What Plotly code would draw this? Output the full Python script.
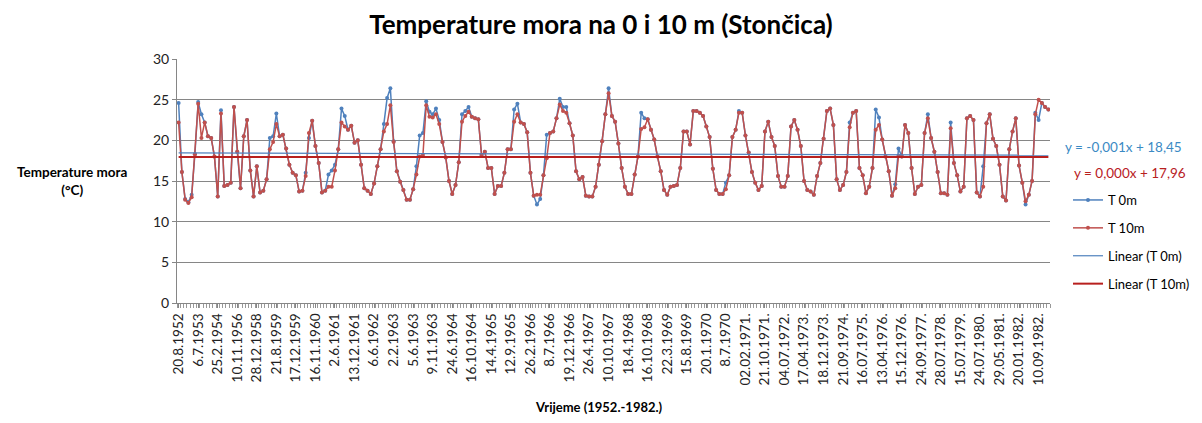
import plotly.graph_objects as go

# Mjerenja temperature mora, Stončica (1952.-1982.)
T_0M = [
    24.6, 16.1, 12.8, 12.4, 13.3, 18.3, 24.7, 23.2, 22.2, 20.5,
    20.3, 18.0, 13.1, 23.7, 14.4, 14.5, 14.8, 24.1, 18.6, 14.1,
    20.5, 22.5, 16.3, 13.1, 16.8, 13.6, 13.8, 15.2, 20.3, 20.5,
    23.3, 20.5, 20.7, 19.0, 17.0, 16.0, 15.7, 13.7, 13.8, 16.0,
    20.3, 22.4, 19.3, 17.2, 13.6, 13.8, 15.8, 16.3, 17.0, 18.9,
    23.9, 23.0, 21.3, 21.8, 19.7, 20.0, 17.0, 14.1, 13.8, 13.4,
    14.7, 16.8, 18.9, 22.0, 25.2, 26.4, 19.9, 16.2, 14.9, 13.9,
    12.7, 12.7, 14.0, 16.8, 20.6, 20.9, 24.8, 23.5, 23.2, 23.9,
    22.5, 19.8, 17.9, 15.0, 13.4, 14.5, 17.3, 23.2, 23.6, 24.1,
    22.9, 22.7, 22.6, 18.2, 18.6, 16.6, 16.6, 13.4, 14.4, 14.4,
    16.0, 18.9, 18.9, 23.8, 24.5, 22.2, 22.0, 21.0, 16.0,
    13.2, 12.1, 12.8, 15.7, 20.7, 20.9, 21.1, 22.7, 25.1, 24.1,
    24.1, 22.1, 20.6, 16.2, 15.2, 15.5, 13.2, 13.1, 13.1, 14.3,
    17.0, 19.9, 23.2, 26.4, 23.0, 22.3, 19.6, 16.6, 14.3, 13.4,
    13.4, 15.8, 18.0, 23.4, 22.7, 22.6, 21.3, 20.1, 18.0, 16.2,
    13.9, 13.3, 14.3, 14.4, 14.5, 16.6, 21.1, 21.1, 19.5, 23.6,
    23.6, 23.4, 23.0, 21.7, 20.4, 16.5, 13.9, 13.4, 13.4, 14.8,
    15.7, 20.4, 21.3, 23.6, 23.4, 20.6, 18.5, 16.1, 14.8, 13.9,
    14.4, 21.1, 22.3, 20.4, 19.3, 15.6, 14.3, 14.3, 15.6, 21.7,
    22.5, 21.3, 19.3, 15.0, 13.9, 13.7, 13.3, 15.6, 17.2, 20.2,
    23.6, 23.9, 21.9, 15.2, 13.9, 14.5, 16.1, 22.2, 23.4, 23.6,
    16.6, 15.7, 13.5, 14.3, 16.6, 23.8, 22.8, 20.1, 18.0, 16.2,
    13.2, 14.6, 19.0, 18.0, 21.9,
    20.9, 16.6, 13.4, 14.3,
    14.5, 20.9, 23.2, 20.3, 18.6, 16.1, 13.5, 13.5, 13.3, 22.2,
    17.2, 15.7, 13.7, 14.3, 22.7, 23.0, 22.5, 13.6, 13.1, 16.8,
    22.1, 23.2, 20.2, 19.3, 17.0, 13.1, 12.6, 18.9, 21.1, 22.7,
    16.9, 14.8, 12.1, 13.3, 15.0, 23.4, 22.5, 24.6, 24.1, 23.8,
]

T_10M = [
    22.2, 16.1, 12.7, 12.3, 13.0, 18.3, 24.5, 20.3, 22.2, 20.5,
    20.3, 18.0, 13.1, 23.3, 14.4, 14.5, 14.8, 24.1, 18.6, 14.1,
    20.5, 22.5, 16.3, 13.1, 16.8, 13.6, 13.8, 15.2, 18.9, 19.8,
    22.0, 20.5, 20.7, 19.0, 17.0, 16.0, 15.7, 13.7, 13.8, 15.6,
    20.9, 22.4, 19.3, 17.2, 13.6, 13.8, 14.3, 14.3, 16.3, 18.9,
    22.2, 21.7, 21.3, 21.8, 19.7, 20.0, 17.0, 14.1, 13.8, 13.4,
    14.7, 16.8, 18.9, 21.1, 22.0, 24.3, 19.8, 16.2, 14.9, 13.9,
    12.7, 12.7, 14.0, 15.8, 18.0, 18.2, 24.3, 22.9, 22.8, 23.2,
    22.0, 19.8, 17.9, 15.0, 13.4, 14.5, 17.3, 22.3, 23.0, 23.5,
    22.9, 22.7, 22.6, 18.2, 18.6, 16.6, 16.6, 13.4, 14.4, 14.4,
    16.0, 18.9, 18.9, 22.3, 23.2, 22.2, 22.0, 21.0, 16.0,
    13.2, 13.3, 13.3, 15.7, 17.8, 20.9, 21.1, 22.7, 24.4, 23.6,
    23.4, 22.1, 20.6, 16.2, 15.2, 15.5, 13.2, 13.1, 13.1, 14.3,
    17.0, 19.9, 23.2, 25.8, 23.0, 22.3, 19.6, 16.6, 14.3, 13.4,
    13.4, 15.8, 18.0, 21.4, 21.6, 22.6, 21.3, 20.1, 18.0, 16.2,
    13.9, 13.3, 14.3, 14.4, 14.5, 16.6, 21.1, 21.1, 19.5, 23.6,
    23.6, 23.4, 23.0, 21.7, 20.4, 16.5, 13.9, 13.4, 13.4, 14.0,
    15.7, 20.4, 21.3, 23.4, 23.4, 20.6, 18.5, 16.1, 14.8, 13.9,
    14.4, 21.1, 22.3, 20.4, 19.3, 15.6, 14.3, 14.3, 15.6, 21.7,
    22.5, 21.3, 19.3, 15.0, 13.9, 13.7, 13.3, 15.6, 17.2, 20.2,
    23.6, 23.9, 21.9, 15.2, 13.9, 14.5, 16.1, 21.6, 23.4, 23.6,
    16.6, 15.7, 13.5, 14.3, 16.6, 21.3, 21.9, 20.1, 18.0, 16.2,
    13.2, 14.1, 18.1, 18.0, 21.9,
    20.9, 16.6, 13.4, 14.3,
    14.5, 20.9, 22.7, 20.3, 18.6, 16.1, 13.5, 13.5, 13.3, 21.5,
    17.2, 15.7, 13.7, 14.3, 22.7, 23.0, 22.5, 13.6, 13.1, 14.3,
    22.1, 23.2, 20.2, 19.3, 17.0, 13.1, 12.6, 18.9, 21.1, 22.7,
    16.9, 14.8, 12.5, 13.3, 15.0, 23.2, 25.0, 24.6, 24.1, 23.8,
]

# oznake na x osi (svaka 6. kategorija)
DATE_LABELS = [
    "20.8.1952", "6.7.1953", "25.2.1954", "10.11.1956", "28.12.1958",
    "21.8.1959", "17.12.1959", "16.11.1960", "2.6.1961", "13.12.1961",
    "6.6.1962", "2.2.1963", "5.6.1963", "9.11.1963", "24.6.1964",
    "16.10.1964", "14.4.1965", "12.9.1965", "26.2.1966", "8.7.1966",
    "19.12.1966", "26.4.1967", "10.10.1967", "18.4.1968", "16.10.1968",
    "22.3.1969", "15.8.1969", "20.1.1970", "8.7.1970", "02.02.1971.",
    "21.10.1971.", "04.07.1972.", "17.04.1973.", "18.12.1973.", "21.09.1974.",
    "16.07.1975.", "13.04.1976.", "15.12.1976.", "24.09.1977.", "28.07.1978.",
    "15.07.1979.", "24.07.1980.", "29.05.1981.", "20.01.1982.", "10.09.1982.",
]
LABEL_STEP = 6

# linearni trendovi (nagib, odsječak)
TREND_T0 = (-0.001, 18.45)
TREND_T10 = (0.000, 17.96)
EQ_T0 = "y = -0,001x + 18,45"
EQ_T10 = "y = 0,000x + 17,96"

assert len(T_0M) == len(T_10M)

BLUE = "#4F81BD"
RED = "#C0504D"
FONT = "Lato"

n = len(T_0M)
x = list(range(n))
trend0 = [TREND_T0[0] * (i + 1) + TREND_T0[1] for i in x]
trend10 = [TREND_T10[0] * (i + 1) + TREND_T10[1] for i in x]

fig = go.Figure()
fig.add_trace(go.Scatter(
    x=x, y=T_0M, name="T 0m", mode="lines+markers", legendgroup="a",
    line=dict(color=BLUE, width=1.5), marker=dict(size=4, color=BLUE)
))
fig.add_trace(go.Scatter(
    x=x, y=T_10M, name="T 10m", mode="lines+markers", legendgroup="b",
    line=dict(color=RED, width=1.5), marker=dict(size=4, color=RED)
))
fig.add_trace(go.Scatter(
    x=x, y=trend0, name="Linear (T 0m)", mode="lines", legendgroup="c",
    line=dict(color=BLUE, width=1.2)
))
fig.add_trace(go.Scatter(
    x=x, y=trend10, name="Linear (T 10m)", mode="lines", legendgroup="d",
    line=dict(color="#B8201E", width=2)
))

# stranica ima 8px margine tijela, pa je figura manja
W, H = 1186, 407
fig.update_layout(
    width=W, height=H,
    paper_bgcolor="white", plot_bgcolor="white",
    margin=dict(l=169, r=144, t=51, b=112),
    font=dict(family=FONT, size=12, color="#000000"),
    title=dict(
        text="<b>Temperature mora na 0 i 10 m (Stončica)</b>",
        x=0.5, xanchor="center", y=1 - 17 / H, yanchor="middle",
        font=dict(size=26, family=FONT, color="#000000")
    ),
    showlegend=True,
    legend=dict(
        xref="container", yref="container",
        x=1060 / W, xanchor="left", y=1 - 177 / H, yanchor="top",
        font=dict(size=13, family=FONT), tracegroupgap=8,
        bgcolor="rgba(0,0,0,0)"
    ),
)

fig.update_xaxes(
    range=[-0.5, n - 0.5],
    tickmode="array",
    tickvals=x[::LABEL_STEP][:len(DATE_LABELS)],
    ticktext=DATE_LABELS,
    tickangle=-90,
    tickfont=dict(size=13.5, color="#222222"),
    showgrid=False, zeroline=False,
    showline=True, linecolor="#868686", linewidth=1,
    ticks="outside", ticklen=4, tickcolor="#868686",
    minor=dict(ticks="outside", ticklen=4, tick0=-0.5, dtick=1,
               tickcolor="#999999", showgrid=False),
)
fig.update_yaxes(
    range=[0, 30], dtick=5,
    tickfont=dict(size=14, color="#222222"),
    showgrid=True, gridcolor="#868686", gridwidth=1,
    zeroline=False,
    showline=True, linecolor="#868686", linewidth=1,
    ticks="outside", ticklen=4, tickcolor="#868686",
)

# naslovi osi
fig.add_annotation(
    text="<b>Temperature mora<br>(°C)</b>", xref="paper", yref="paper",
    x=-0.120, y=0.5, xanchor="center", yanchor="middle", showarrow=False,
    font=dict(size=13.5, family=FONT, color="#000000")
)
fig.add_annotation(
    text="<b>Vrijeme (1952.-1982.)</b>", xref="paper", yref="paper",
    x=0.483, y=-0.425, xanchor="center", yanchor="middle", showarrow=False,
    font=dict(size=13, family=FONT, color="#000000")
)

# jednadžbe trendova
fig.add_annotation(
    text=EQ_T0, xref="paper", yref="paper", x=1.0846, y=0.639,
    xanchor="center", yanchor="middle", showarrow=False,
    font=dict(size=13.5, family=FONT, color="#3B8AC4")
)
fig.add_annotation(
    text=EQ_T10, xref="paper", yref="paper", x=1.0914, y=0.533,
    xanchor="center", yanchor="middle", showarrow=False,
    font=dict(size=13.5, family=FONT, color="#B8201E")
)

fig.write_html("out.html")
